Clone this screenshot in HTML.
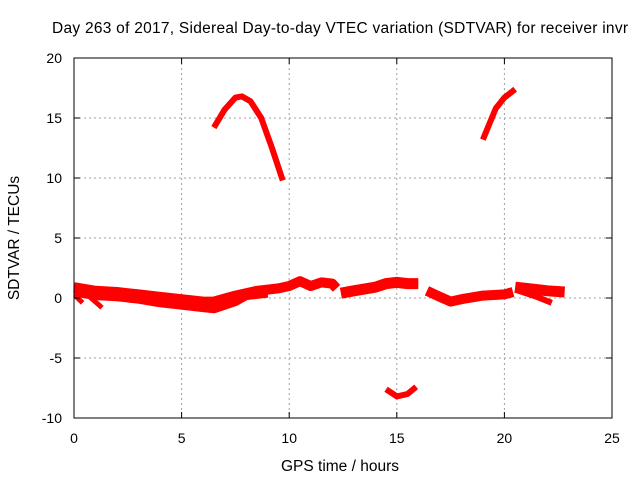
<!DOCTYPE html>
<html><head><meta charset="utf-8"><style>
body{margin:0;background:#fff;font-family:"Liberation Sans",sans-serif;}
svg text{font-family:"Liberation Sans",sans-serif;font-size:14px;fill:#000;}
svg text.big{font-size:15.5px;}
</style></head><body>
<svg id="c" width="640" height="480">
<text class="big" x="340" y="33" text-anchor="middle" textLength="576">Day 263 of 2017, Sidereal Day-to-day VTEC variation (SDTVAR) for receiver invr</text>
<text class="big" x="340" y="471" text-anchor="middle">GPS time / hours</text>
<text class="big" transform="translate(19,238) rotate(-90)" text-anchor="middle">SDTVAR / TECUs</text>
<g id="grid"></g><g id="marks"></g>
<rect x="74" y="58" width="538" height="360" fill="none" stroke="#000" stroke-width="1"/>
<g id="ticks"></g>
</svg>
<script>
const xTicks=[0,5,10,15,20,25];
const yTicks=[-10,-5,0,5,10,15,20];
const bandUpper=[[0,0.9],[1,0.6],[2,0.5],[3,0.3],[4,0.1],[5,-0.1],[6,-0.3],[6.5,-0.3],[7.5,0.2],[8.5,0.6],[9.5,0.8],[10,1.0],[10.5,1.4],[11,1.0],[11.5,1.3],[12,1.2],[12.2,0.8]];
const bandMid=[[12.4,0.4],[13,0.6],[14,0.9],[14.5,1.2],[15,1.3],[15.5,1.2],[16,1.2]];
const bandLate=[[16.4,0.6],[17,0.1],[17.5,-0.3],[18,-0.1],[19,0.2],[20,0.3],[20.4,0.5]];
const bandEnd=[[20.5,0.9],[21,0.8],[22,0.6],[22.8,0.5]];
const bandLower=[[0,0.5],[1,0.2],[2,0.1],[3,-0.1],[4,-0.4],[5,-0.6],[6,-0.8],[6.5,-0.9],[7,-0.6],[7.5,-0.3],[8,0.2],[9,0.4]];
const streakA=[[0.05,0.2],[0.4,-0.4]];
const streakB=[[0.6,0.3],[1.3,-0.8]];
const streakC=[[20.5,0.7],[21.5,0.1],[22.2,-0.4]];
const arc1=[[6.5,14.2],[7,15.7],[7.5,16.7],[7.8,16.8],[8.2,16.4],[8.7,15.0],[9.2,12.5],[9.7,9.8]];
const arc2=[[19,13.2],[19.3,14.5],[19.6,15.8],[20,16.7],[20.5,17.4]];
const dip=[[14.5,-7.6],[15,-8.2],[15.5,-8.0],[15.9,-7.4]];
const X=v=>74+v*538/25, Y=v=>298-v*12;
const NS="http://www.w3.org/2000/svg";
const grid=document.getElementById('grid'),ticks=document.getElementById('ticks'),marks=document.getElementById('marks');
function mk(t,a,p){const e=document.createElementNS(NS,t);for(const k in a)e.setAttribute(k,a[k]);p.appendChild(e);return e;}
xTicks.forEach(v=>{
 if(v>0&&v<25){const g=mk('line',{x1:X(v),x2:X(v),y1:58,y2:418,stroke:'#a0a0a0','stroke-dasharray':'2,3'},grid);
 
 }
 mk('line',{x1:X(v),x2:X(v),y1:418,y2:412,stroke:'#000'},ticks);
 mk('line',{x1:X(v),x2:X(v),y1:58,y2:64,stroke:'#000'},ticks);
 const t=mk('text',{x:X(v),y:443,'text-anchor':'middle'},ticks);t.textContent=v;
 
 
});
yTicks.forEach(v=>{
 if(v>-10&&v<20){const g=mk('line',{x1:74,x2:612,y1:Y(v),y2:Y(v),stroke:'#a0a0a0','stroke-dasharray':'2,3'},grid);
 
 }
 mk('line',{x1:74,x2:80,y1:Y(v),y2:Y(v),stroke:'#000'},ticks);
 mk('line',{x1:612,x2:606,y1:Y(v),y2:Y(v),stroke:'#000'},ticks);
 const t=mk('text',{x:62,y:Y(v)+5,'text-anchor':'end'},ticks);t.textContent=v;
 
 
});
function series(d,w,name){
 const p=mk('polyline',{points:d.map(q=>X(q[0])+','+Y(q[1])).join(' '),fill:'none',stroke:'#ff0000','stroke-width':w,'stroke-linejoin':'round'},marks);
 
 
}
series(bandUpper,10,'band-upper');series(bandMid,11,'band-mid');series(bandLate,10,'band-late');series(bandEnd,11,'band-end');
series(bandLower,9,'band-lower');series(streakA,5,'streak-a');series(streakB,5,'streak-b');series(streakC,6,'streak-c');
series(arc1,6,'arc-1');series(arc2,6,'arc-2');series(dip,6,'dip-series');
</script>
</body></html>
